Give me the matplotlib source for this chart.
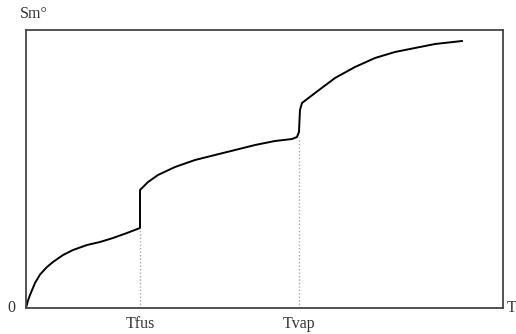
import matplotlib
matplotlib.use("Agg")
import matplotlib.pyplot as plt

# entropy curve (T and S on a 0..100 scale)
t_solid = [0, 0.42, 0.84, 1.89, 2.94, 4.40, 5.66, 7.76, 9.85, 12.79, 15.51, 18.24, 21.17, 23.90]
s_solid = [0, 2.70, 4.68, 8.99, 12.05, 14.75, 16.55, 19.06, 20.86, 22.66, 23.74, 25.18, 26.98, 28.78]

t_liquid = [23.90, 23.90, 25.58, 27.67, 31.24, 35.43, 39.62, 43.82, 48.01, 52.20, 55.77, 56.81, 57.23]
s_liquid = [28.78, 42.45, 45.32, 47.84, 50.72, 53.24, 55.04, 56.83, 58.63, 60.07, 60.79, 61.51, 63.31]

t_gas = [57.23, 57.34, 57.44, 57.86, 60.59, 64.78, 68.97, 73.17, 77.36, 81.55, 85.74, 91.40]
s_gas = [63.31, 67.63, 71.22, 73.74, 77.34, 82.73, 86.69, 89.93, 92.09, 93.53, 94.96, 96.04]

t_fus = 23.90
t_vap = 57.30
tick_labels = ["Tfus", "Tvap"]

plt.rcParams['font.family'] = ['Liberation Serif', 'DejaVu Serif']

fig = plt.figure(figsize=(5.16, 3.34), dpi=100)
ax = fig.add_axes([26 / 516, 26 / 334, 477 / 516, 278 / 334])

ax.plot(t_solid + t_liquid + t_gas, s_solid + s_liquid + s_gas,
        color='black', lw=1.4, solid_joinstyle='round')

ax.plot([t_fus, t_fus], [0, s_solid[-1]], color='#aaaaaa', lw=1.0, ls=(0, (1, 1.5)))
ax.plot([t_vap, t_vap], [0, s_liquid[-2]], color='#aaaaaa', lw=1.0, ls=(0, (1, 1.5)))

ax.set_xlim(0, 100)
ax.set_ylim(0, 100)
ax.set_xticks([])
ax.set_yticks([])
for sp in ax.spines.values():
    sp.set_color('#444444')
    sp.set_linewidth(1.3)

txt = dict(color='#333333', fontsize=11.5)
ax.text(-1.3, 100 * (308 - 14) / 278, "Sm°", ha='left', va='center', **txt)
ax.text(-2.3, 0, "0", ha='right', va='center', **txt)
ax.text(100.8, 0, "T", ha='left', va='center', **txt)
for x, lab in zip([t_fus, t_vap], tick_labels):
    ax.text(x, -5.8, lab, ha='center', va='center', **txt)

fig.savefig("out.png", dpi=100)
